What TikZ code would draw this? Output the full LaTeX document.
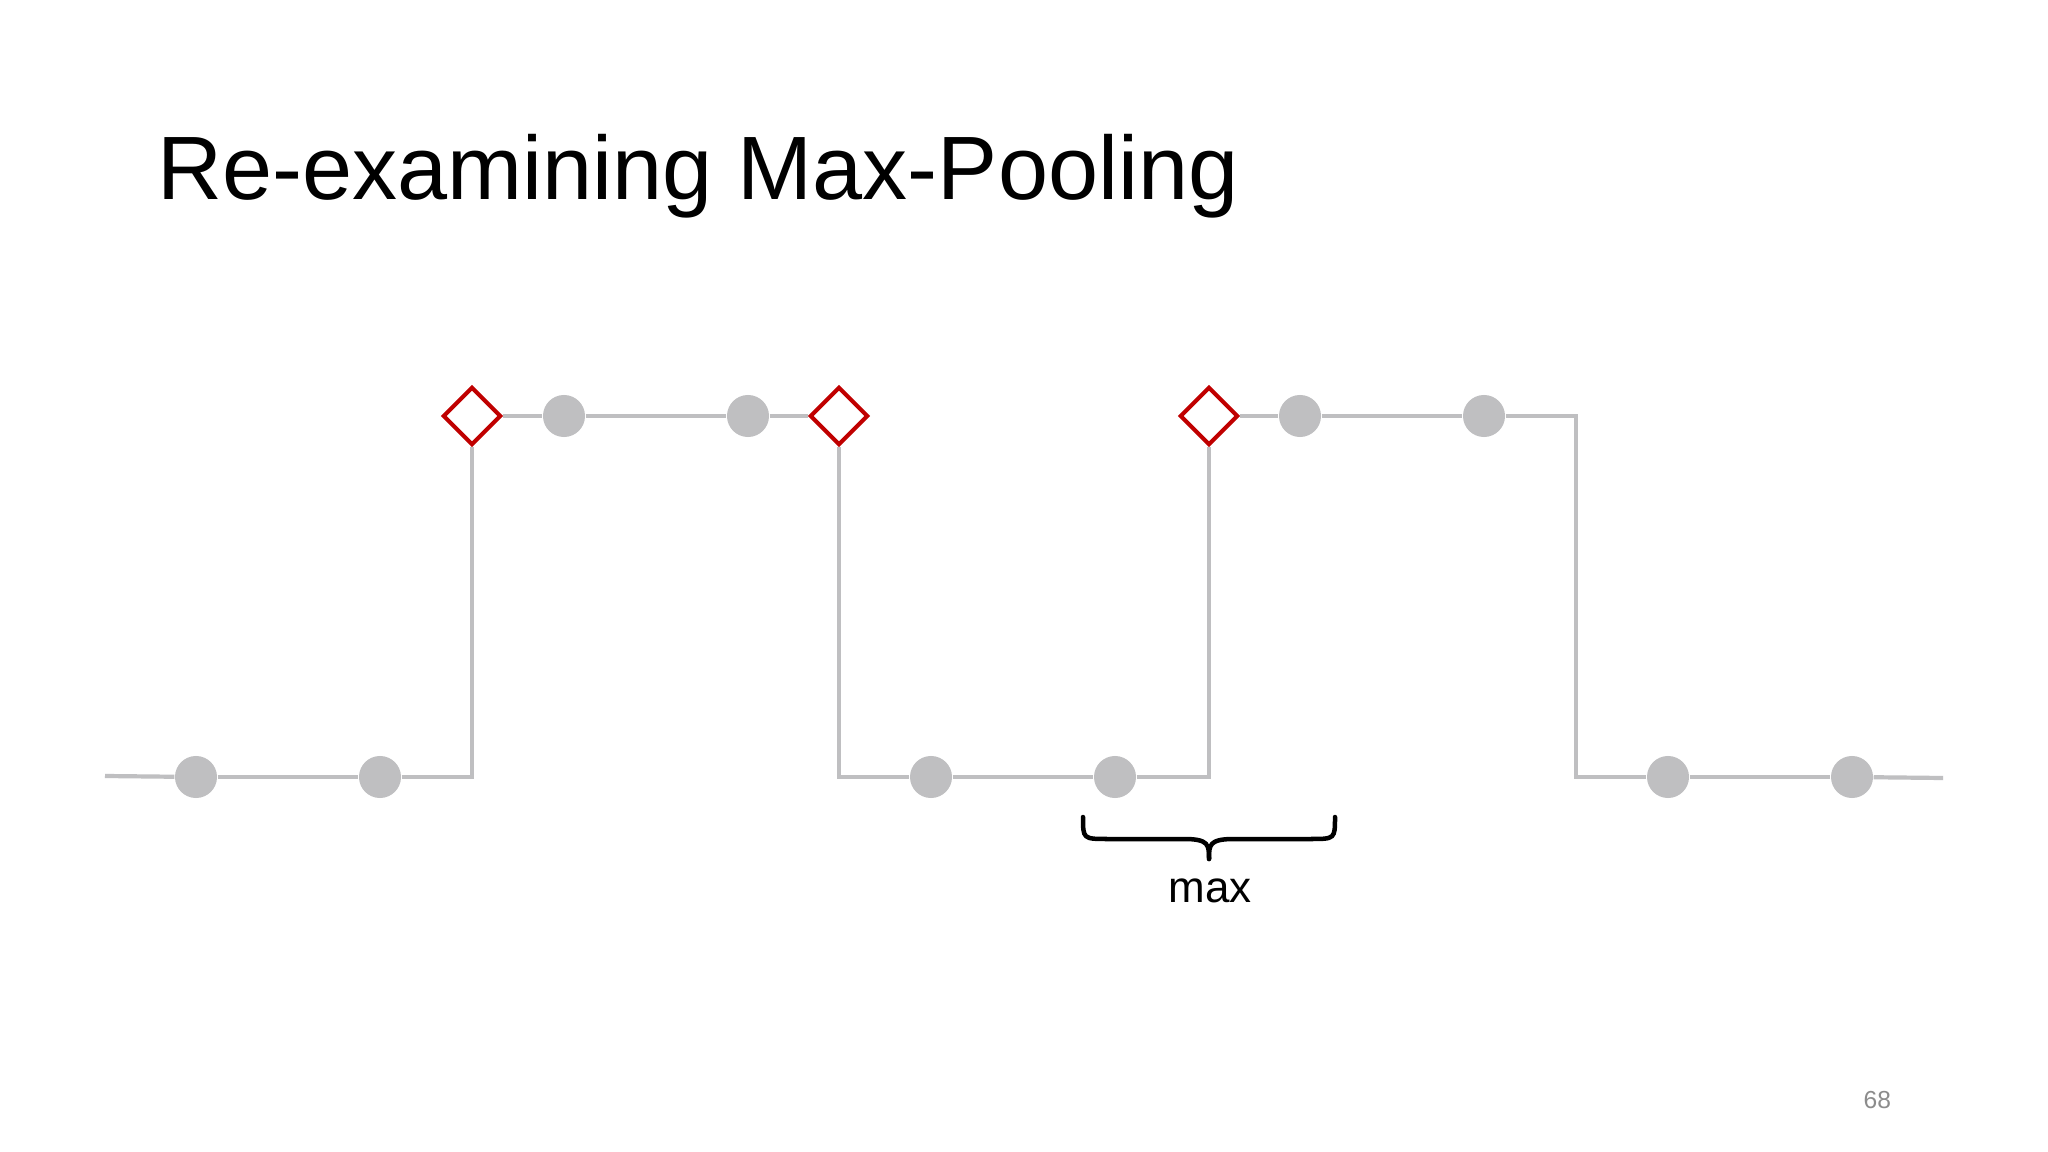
\documentclass[tikz,border=0pt]{standalone}
\usepackage{fontspec}
\setmainfont{Liberation Sans}
\usetikzlibrary{shapes.geometric}
\definecolor{lgray}{HTML}{BFBFC1}
\definecolor{dred}{HTML}{C00000}
\definecolor{pgray}{HTML}{8C8C8C}
\begin{document}
\begin{tikzpicture}[x=0.01cm,y=-0.01cm,
  dot/.style={circle,fill=lgray,inner sep=0,minimum size=0.42cm},
  peak/.style={diamond,aspect=1,draw=dred,line width=0.04cm,fill=white,inner sep=0,minimum size=0.58cm},
  sig/.style={draw=lgray,line width=0.042cm},
  bracestyle/.style={draw=black,line width=0.045cm,line cap=round}]
\useasboundingbox[fill=white] (0,0) rectangle (2048,1152);

% title and labels
\node[anchor=base west,font=\fontsize{25.6}{30}\selectfont,inner sep=0] (title) at (157,200) {Re-examining Max-Pooling};
\node[anchor=base,font=\fontsize{12.5}{15}\selectfont,inner sep=0] (lbl) at (1210,902) {max};
\node[anchor=base west,font=\fontsize{7}{8}\selectfont,text=pgray,inner sep=0] (pg) at (1863,1108) {68};

% samples
\node[dot] (c1) at (196,777) {};
\node[dot] (c2) at (380,777) {};
\node[peak] (d1) at (472,416) {};
\node[dot] (c3) at (564,416) {};
\node[dot] (c4) at (748,416) {};
\node[peak] (d2) at (839,416) {};
\node[dot] (c5) at (931,777) {};
\node[dot] (c6) at (1115,777) {};
\node[peak] (d3) at (1209,416) {};
\node[dot] (c7) at (1300,416) {};
\node[dot] (c8) at (1484,416) {};
\node[dot] (c9) at (1668,777) {};
\node[dot] (c10) at (1852,777) {};

\coordinate (s) at (105,776);
\coordinate (e) at (1943,778);
\coordinate (k1) at (1576,416);
\coordinate (k2) at (1576,777);

% signal connectors
\draw[sig] (s) -- (c1);
\draw[sig] (c1) -- (c2);
\draw[sig] (c2) -- (d1 |- c2) -- (d1);
\draw[sig] (d1) -- (c3);
\draw[sig] (c3) -- (c4);
\draw[sig] (c4) -- (d2);
\draw[sig] (d2) -- (d2 |- c5) -- (c5);
\draw[sig] (c5) -- (c6);
\draw[sig] (c6) -- (d3 |- c6) -- (d3);
\draw[sig] (d3) -- (c7);
\draw[sig] (c7) -- (c8);
\draw[sig] (c8) -- (k1) -- (k2) -- (c9);
\draw[sig] (c9) -- (c10);
\draw[sig] (c10) -- (e);

% brace
\coordinate (bl) at (1083,817);
\coordinate (br) at (1335,817);
\coordinate (bt) at (1209,859);
\draw[bracestyle] (bl) .. controls (1083,839) .. (1108,839) -- (1184,839)
   .. controls (1209,839) and (1209,845) .. (bt);
\draw[bracestyle] (br) .. controls (1335,839) .. (1310,839) -- (1234,839)
   .. controls (1209,839) and (1209,845) .. (bt);
\end{tikzpicture}
\end{document}
